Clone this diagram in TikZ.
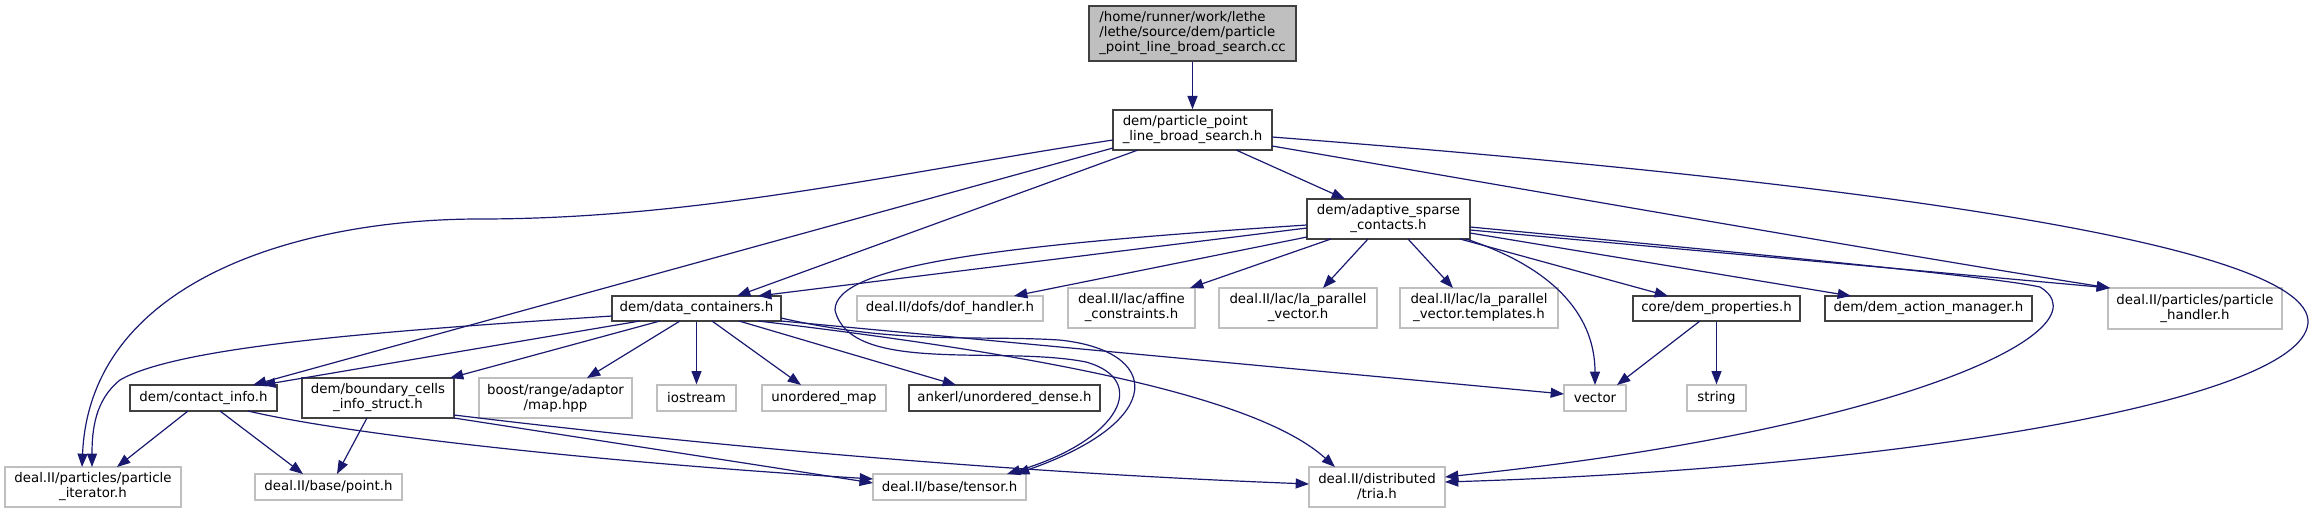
\documentclass[tikz,border=0pt]{standalone}
\usepackage{fontspec}
\setmainfont{DejaVu Sans}
\usetikzlibrary{arrows.meta,calc}
\definecolor{eblue}{HTML}{191970}
\definecolor{dgray}{HTML}{404040}
\definecolor{lgray}{HTML}{BFBFBF}
\begin{document}
\begin{tikzpicture}[x=0.75pt,y=-0.75pt,
  nd/.style={draw=dgray, line width=1.1pt, fill=white, inner sep=0pt, align=center,
    font=\fontsize{10pt}{11.25pt}\selectfont},
  ng/.style={nd, draw=lgray, line width=0.9pt},
  nmain/.style={nd, fill=lgray},
  sz/.style 2 args={minimum width=#1*0.75pt, minimum height=#2*0.75pt},
  e/.style={draw=eblue, line width=0.9pt, -{Triangle[length=10pt,width=7.5pt]}}]
\path[use as bounding box] (0,0) rectangle (2313,513);

% nodes
\node[nmain, sz={207}{55}, align=left] (main) at (1192.5,33.5) {/home/runner/work/lethe\\/lethe/source/dem/particle\\\_point\_line\_broad\_search.cc};
\node[nd, sz={159}{40}, align=left] (ppl) at (1192.5,130) {dem/particle\_point\\\_line\_broad\_search.h};
\node[nd, sz={163}{40}] (asc) at (1388.5,219) {dem/adaptive\_sparse\\\_contacts.h};
\node[nd, sz={169}{25}] (dc) at (696.5,308.5) {dem/data\_containers.h};
\node[ng, sz={186}{25}] (dof) at (950,308.5) {deal.II/dofs/dof\_handler.h};
\node[ng, sz={127}{40}] (affine) at (1131.5,308) {deal.II/lac/affine\\\_constraints.h};
\node[ng, sz={158}{40}] (lapv) at (1298,308) {deal.II/lac/la\_parallel\\\_vector.h};
\node[ng, sz={158}{40}] (lapvt) at (1479,308) {deal.II/lac/la\_parallel\\\_vector.templates.h};
\node[nd, sz={167}{25}] (dprop) at (1716.5,308.5) {core/dem\_properties.h};
\node[nd, sz={207}{25}] (dam) at (1928.5,308.5) {dem/dem\_action\_manager.h};
\node[ng, sz={174}{41}] (ph) at (2195,308.5) {deal.II/particles/particle\\\_handler.h};
\node[nd, sz={147}{26}] (ci) at (203.5,398) {dem/contact\_info.h};
\node[nd, sz={152}{40}] (bc) at (378,398) {dem/boundary\_cells\\\_info\_struct.h};
\node[ng, sz={153}{40}] (boost) at (555.5,398) {boost/range/adaptor\\/map.hpp};
\node[ng, sz={79}{26}] (ios) at (696.5,398) {iostream};
\node[ng, sz={124}{26}] (umap) at (824,398) {unordered\_map};
\node[nd, sz={191}{26}] (ankerl) at (1004.5,398) {ankerl/unordered\_dense.h};
\node[ng, sz={62}{26}] (vector) at (1595,398) {vector};
\node[ng, sz={59}{26}] (string) at (1716.5,398) {string};
\node[ng, sz={176}{40}] (pit) at (93,487) {deal.II/particles/particle\\\_iterator.h};
\node[ng, sz={147}{26}] (point) at (328.5,487) {deal.II/base/point.h};
\node[ng, sz={153}{26}] (tensor) at (949.5,487) {deal.II/base/tensor.h};
\node[ng, sz={136}{40}] (tria) at (1377,487) {deal.II/distributed\\/tria.h};

% edges
\draw[e] (main.south) -- (ppl.north);
\draw[e] ($(ppl)+(43.5,20)$) -- ($(asc)+(-43.5,-20)$);
\draw[e] ($(ppl)+(-54.5,20)$) -- ($(dc)+(40.5,-12.5)$);
\draw[e] ($(ppl)+(-79.5,18)$) -- ($(ci)+(49.5,-13)$);
\draw[e] ($(ppl)+(-79.5,10)$) .. controls (900,172) and (700,219) .. (480,219)
  .. controls (300,219) and (90,280) .. ($(pit)+(-11,-20)$);
\draw[e] ($(ppl)+(79.5,16)$) .. controls (1500,185) and (1900,255) .. ($(ph)+(-85,-20.5)$);
\draw[e] ($(ppl)+(79.5,7)$) .. controls (1700,170) and (2300,230) .. (2308,320)
  .. controls (2312,400) and (1900,468) .. ($(tria)+(68,-5)$);

\draw[e] ($(asc)+(-81.5,9)$) -- ($(dc)+(61.5,-12.5)$);
\draw[e] ($(asc)+(-81.5,18)$) -- ($(dof)+(64,-12.5)$);
\draw[e] ($(asc)+(-57.5,20)$) -- ($(affine)+(58.5,-20)$);
\draw[e] ($(asc)+(-20.5,20)$) -- ($(lapv)+(25,-20)$);
\draw[e] ($(asc)+(19.5,20)$) -- ($(lapvt)+(-26,-20)$);
\draw[e] ($(asc)+(71.5,20)$) -- ($(dprop)+(-48.5,-12.5)$);
\draw[e] ($(asc)+(81.5,14)$) -- ($(dam)+(-77.5,-12.5)$);
\draw[e] ($(asc)+(81.5,11)$) -- ($(ph)+(-85,-20.5)$);
\draw[e] ($(asc)+(81.5,8)$) .. controls (1800,258) and (2000,278) .. (2040,287)
  .. controls (2110,330) and (1900,430) .. ($(tria)+(68,-10)$);
\draw[e] ($(asc)+(77.5,20)$) .. controls (1560,270) and (1595,320) .. ($(vector)+(0,-13)$);
\draw[e] ($(asc)+(-81.5,6)$) .. controls (1000,245) and (835,265) .. (835,310)
  .. controls (850,375) and (1000,345) .. (1086,362)
  .. controls (1150,380) and (1120,440) .. ($(tensor)+(57.5,-13)$);

\draw[e] ($(dc)+(-84.5,7.5)$) .. controls (400,330) and (180,345) .. (120,380)
  .. controls (95,400) and (92,430) .. ($(pit)+(-1,-20)$);
\draw[e] ($(dc)+(-56.5,12.5)$) -- ($(ci)+(58.5,-13)$);
\draw[e] ($(dc)+(-36.5,12.5)$) -- ($(bc)+(72,-20)$);
\draw[e] ($(dc)+(-16.5,12.5)$) -- ($(boost)+(31.5,-20)$);
\draw[e] (dc.south) -- (ios.north);
\draw[e] ($(dc)+(15.5,12.5)$) -- ($(umap)+(-23,-13)$);
\draw[e] ($(dc)+(42.5,12.5)$) -- ($(ankerl)+(-48.5,-13)$);
\draw[e] ($(dc)+(84.5,12.5)$) -- ($(vector)+(-31,-4)$);
\draw[e] ($(dc)+(61.5,12.5)$) .. controls (1000,350) and (1250,390) .. ($(tria)+(-42,-20)$);
\draw[e] ($(dc)+(84.5,9.5)$) .. controls (900,345) and (980,335) .. (1059,340)
  .. controls (1160,350) and (1170,420) .. ($(tensor)+(66.5,-13)$);

\draw[e] ($(dprop)+(-16.5,12.5)$) -- ($(vector)+(22,-13)$);
\draw[e] (dprop.south) -- (string.north);

\draw[e] ($(ci)+(-15.5,13)$) -- ($(pit)+(24,-20)$);
\draw[e] ($(ci)+(16.5,13)$) -- ($(point)+(-25.5,-13)$);
\draw[e] ($(ci)+(44.5,13)$) .. controls (350,435) and (600,462) .. ($(tensor)+(-76.5,-8)$);
\draw[e] ($(bc)+(-11,20)$) -- ($(point)+(8.5,-13)$);
\draw[e] ($(bc)+(76,20)$) -- ($(tensor)+(-76.5,-4)$);
\draw[e] ($(bc)+(76,17)$) .. controls (700,445) and (1000,472) .. ($(tria)+(-68,-3)$);
\end{tikzpicture}
\end{document}
